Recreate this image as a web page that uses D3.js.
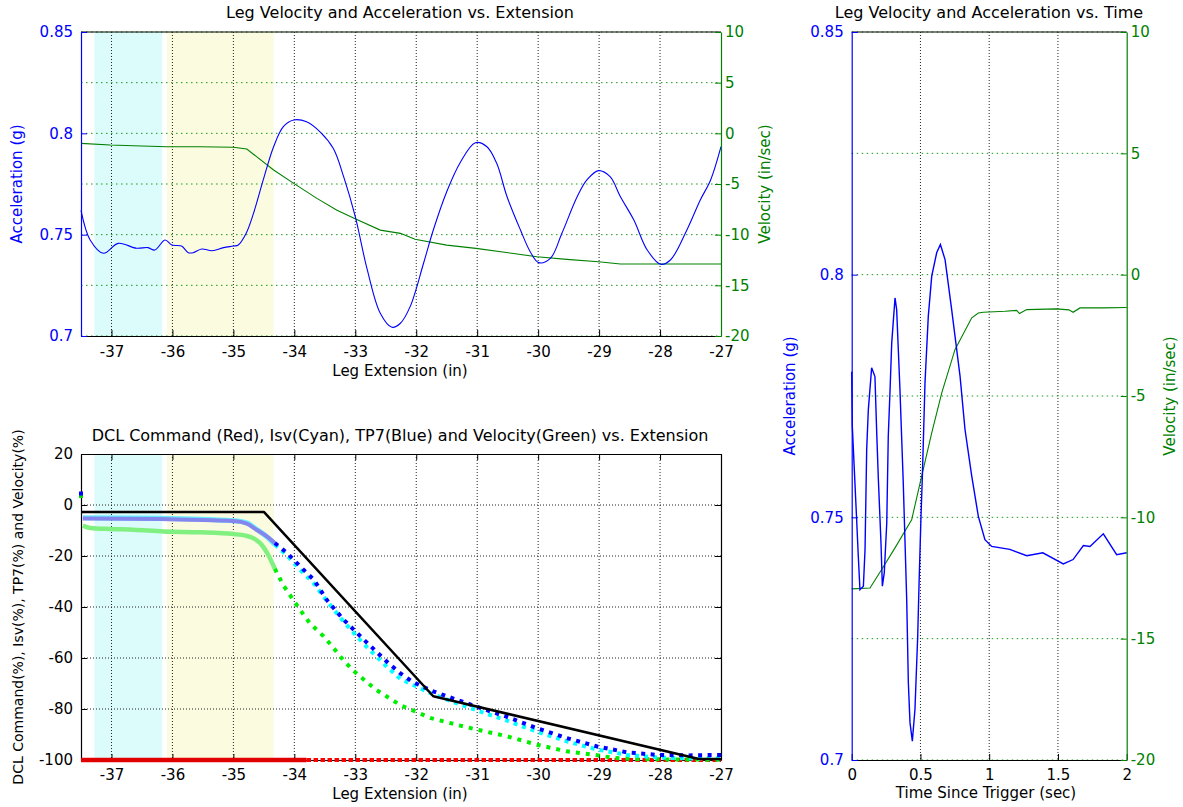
<!DOCTYPE html>
<html>
<head>
<meta charset="utf-8">
<script src="https://cdn.jsdelivr.net/npm/d3@7"></script>
<style>
  body { margin: 0; background: #fff; }
</style>
</head>
<body>
<div id="chart"></div>
<script>
// ---- data ----
const extTicks = [-37, -36, -35, -34, -33, -32, -31, -30, -29, -28, -27]
const accTicks = [0.7, 0.75, 0.8, 0.85]
const velTicks = [-20, -15, -10, -5, 0, 5, 10]
const pctTicks = [-100, -80, -60, -40, -20, 0, 20]
const timeTicks = [0, 0.5, 1, 1.5, 2]

// shaded extension ranges: [from, to]
const cyanBand = [-37.28, -36.17]
const yellowBand = [-36.09, -34.34]

// top-left: acceleration (g) vs extension
const accVsExt = [
  [-37.5, 0.762], [-37.35, 0.7474], [-37.13, 0.7408], [-36.89, 0.7457], [-36.59, 0.7433],
  [-36.4, 0.7436], [-36.29, 0.7424], [-36.12, 0.7474], [-36.01, 0.7449], [-35.85, 0.7444],
  [-35.74, 0.7411], [-35.66, 0.7411], [-35.52, 0.7429], [-35.35, 0.7421], [-35.16, 0.7436],
  [-35.0, 0.7444], [-34.92, 0.7449], [-34.79, 0.7507], [-34.67, 0.7605], [-34.51, 0.777],
  [-34.34, 0.7934], [-34.18, 0.8033], [-34.01, 0.8066], [-33.8, 0.8057], [-33.57, 0.8005],
  [-33.36, 0.7925], [-33.19, 0.7785], [-33.0, 0.7589], [-32.81, 0.7335], [-32.59, 0.7112],
  [-32.4, 0.7043], [-32.26, 0.7063], [-32.1, 0.7145], [-31.88, 0.7359], [-31.72, 0.7523],
  [-31.5, 0.7712], [-31.28, 0.7855], [-31.03, 0.7954], [-30.84, 0.7934], [-30.68, 0.7852],
  [-30.51, 0.7687], [-30.29, 0.7523], [-30.13, 0.7416], [-29.99, 0.7362], [-29.8, 0.7383],
  [-29.61, 0.7507], [-29.36, 0.7687], [-29.2, 0.777], [-29.01, 0.7816], [-28.82, 0.7786],
  [-28.65, 0.7687], [-28.43, 0.7572], [-28.21, 0.7424], [-27.99, 0.7354], [-27.83, 0.7375],
  [-27.56, 0.7523], [-27.34, 0.7671], [-27.17, 0.777], [-27.0, 0.7934]
]
// top-left: velocity (in/sec) vs extension
const velVsExt = [
  [-37.5, -0.99], [-37.02, -1.15], [-36.64, -1.22], [-36.09, -1.32], [-35.55, -1.32],
  [-35.0, -1.38], [-34.78, -1.55], [-34.62, -2.3], [-34.34, -3.62], [-34.01, -4.94],
  [-33.63, -6.42], [-33.3, -7.6], [-33.02, -8.39], [-32.59, -9.55], [-32.26, -9.87],
  [-32.02, -10.46], [-31.5, -11.03], [-31.02, -11.35], [-30.02, -12.18], [-29.53, -12.44],
  [-29.01, -12.67], [-28.65, -12.9], [-27.0, -12.9]
]

// bottom-left: percent series vs extension
const dclRed = [[-37.5, -100], [-33.8, -100], [-27.0, -100]]
const dclBlack = [[-37.5, -2.7], [-34.5, -2.7], [-31.72, -75], [-27.38, -99.5], [-27.0, -99.6]]
const tp7Blue = [
  [-37.5, 4.5], [-37.47, -5.3], [-36.2, -5.5], [-35.5, -5.9], [-35.0, -6.3], [-34.78, -7.3],
  [-34.62, -9.7], [-34.45, -12.3], [-34.32, -14.9], [-34.12, -18.8], [-33.9, -24.2],
  [-33.68, -29.3], [-33.46, -37.5], [-33.19, -45], [-32.86, -52.8], [-32.48, -61.5],
  [-32.26, -66], [-32.05, -69.5], [-31.72, -73.1], [-31.33, -76.4], [-30.95, -79.6],
  [-30.51, -83.1], [-30.02, -87.5], [-29.53, -91.4], [-29.03, -94.7], [-28.54, -97],
  [-28.05, -98], [-27.56, -98.2], [-27.0, -98]
]
const isvCyan = [
  [-37.47, -5.0], [-36.2, -5.2], [-35.0, -6.2], [-34.78, -7.0], [-34.62, -9.5],
  [-34.45, -12.5], [-34.32, -15.5], [-34.12, -19.8], [-33.9, -25.5], [-33.68, -30.8],
  [-33.47, -37.5], [-33.19, -45.8], [-32.86, -54.5], [-32.48, -63.5], [-32.26, -68.2],
  [-32.05, -70.6], [-31.72, -74.3], [-31.33, -77.8], [-30.95, -81], [-30.51, -84.6],
  [-30.02, -88.9], [-29.53, -92.7], [-29.03, -95.9], [-28.54, -98], [-28.05, -99],
  [-27.56, -99.4], [-27.0, -99.3]
]
const velPctGreen = [
  [-37.5, 3.5], [-37.47, -8.1], [-37.35, -9.0], [-37.02, -9.4], [-36.64, -9.7],
  [-36.15, -10.4], [-35.55, -10.7], [-35.0, -11.4], [-34.8, -12.0], [-34.66, -13.2],
  [-34.54, -15.5], [-34.43, -19.5], [-34.32, -25.0], [-34.18, -31.5], [-34.01, -37.5],
  [-33.85, -43.0], [-33.74, -46.5], [-33.52, -51.5], [-33.36, -56], [-33.19, -61],
  [-33.03, -65], [-32.81, -69.5], [-32.65, -72.6], [-32.26, -78.5], [-31.77, -83.5],
  [-31.28, -86.5], [-31.0, -88.1], [-30.51, -90.7], [-30.02, -94], [-29.53, -96.6],
  [-29.09, -97.9], [-28.76, -99.2], [-28.3, -99.7], [-27.0, -99.9]
]
// where the markers stop overlapping into a solid band
const redDenseEnd = -33.8
const markerDenseEnd = -34.32

// right: acceleration (g) vs time
const accVsTime = [
  [0.0, 0.78], [0.004, 0.769], [0.036, 0.7495], [0.048, 0.742], [0.06, 0.7351],
  [0.085, 0.7358], [0.097, 0.7434], [0.109, 0.764], [0.121, 0.7722], [0.145, 0.7808],
  [0.169, 0.779], [0.182, 0.7674], [0.194, 0.7578], [0.213, 0.7447], [0.223, 0.7358],
  [0.237, 0.7386], [0.255, 0.7489], [0.266, 0.7667], [0.279, 0.7763], [0.291, 0.7859],
  [0.315, 0.7952], [0.327, 0.7928], [0.351, 0.7763], [0.375, 0.7571], [0.388, 0.7447],
  [0.4, 0.7331], [0.412, 0.7159], [0.424, 0.7077], [0.441, 0.7039], [0.46, 0.7104],
  [0.48, 0.7255], [0.49, 0.7365], [0.504, 0.7502], [0.514, 0.7585], [0.533, 0.7777],
  [0.557, 0.7914], [0.582, 0.7997], [0.618, 0.8045], [0.645, 0.8062], [0.679, 0.8031],
  [0.727, 0.7928], [0.788, 0.7791], [0.824, 0.7681], [0.873, 0.7585], [0.921, 0.7502],
  [0.969, 0.7454], [1.018, 0.744], [1.15, 0.7434], [1.273, 0.7421], [1.39, 0.7427],
  [1.539, 0.7404], [1.61, 0.7413], [1.685, 0.7442], [1.733, 0.744], [1.83, 0.7466],
  [1.927, 0.7423], [2.0, 0.7427]
]
// right: velocity (in/sec) vs time
const velVsTime = [
  [0.0, -12.95], [0.133, -12.91], [0.218, -12.15], [0.315, -11.26], [0.436, -10.1],
  [0.509, -8.3], [0.582, -6.52], [0.655, -4.87], [0.751, -3.09], [0.873, -1.78],
  [0.921, -1.58], [0.957, -1.55], [1.115, -1.51], [1.2, -1.47], [1.22, -1.6],
  [1.273, -1.44], [1.49, -1.41], [1.58, -1.45], [1.61, -1.55], [1.66, -1.37],
  [1.83, -1.37], [2.0, -1.35]
]

// ---- drawing ----
const W = 1183, H = 807
const FONT = '"DejaVu Sans", "Liberation Sans", Arial, sans-serif'
const BLUE = '#0000ff'
const GREEN = '#008000'
const GRID_GREEN = '#1a9a1a'
const GRID_BLACK = '#222'

const svg = d3.select('#chart').append('svg')
  .attr('width', W).attr('height', H)
  .style('font-family', FONT)

svg.append('rect').attr('width', W).attr('height', H).attr('fill', '#fff')

function styleAxis(g, color, size) {
  g.select('.domain').attr('stroke', color).attr('stroke-width', 1.2)
  g.selectAll('.tick line').attr('stroke', color)
  g.selectAll('.tick text')
    .attr('fill', color).attr('font-size', (size || 15) + 'px')
    .attr('font-family', FONT)
}

const fmt = d => String(+d.toFixed(3))

function hGrid(g, y, values, x0, x1, color, dash) {
  g.append('g').selectAll('line').data(values).join('line')
    .attr('x1', x0).attr('x2', x1)
    .attr('y1', d => y(d)).attr('y2', d => y(d))
    .attr('stroke', color).attr('stroke-width', 1)
    .attr('stroke-dasharray', dash)
}

function vGrid(g, x, values, y0, y1, color, dash) {
  g.append('g').selectAll('line').data(values).join('line')
    .attr('x1', d => x(d)).attr('x2', d => x(d))
    .attr('y1', y0).attr('y2', y1)
    .attr('stroke', color).attr('stroke-width', 1)
    .attr('stroke-dasharray', dash)
}

function label(text, x, y, color, size, rotate) {
  svg.append('text')
    .attr('transform', `translate(${x},${y})` + (rotate ? ' rotate(-90)' : ''))
    .attr('text-anchor', 'middle')
    .attr('fill', color).attr('font-size', size + 'px')
    .text(text)
}

function bands(g, x, y0, y1) {
  [[cyanBand, '#dcfbfb'], [yellowBand, '#fbfbe0']].forEach(([b, c]) => {
    g.append('rect')
      .attr('x', x(b[0])).attr('width', x(b[1]) - x(b[0]))
      .attr('y', y0).attr('height', y1 - y0)
      .attr('fill', c)
  })
}

// ===== Panel 1: velocity & acceleration vs extension =====
{
  const L = 81, R = 721, T = 32, B = 336
  const x = d3.scaleLinear().domain([-37.5, -27]).range([L, R])
  const yA = d3.scaleLinear().domain([0.7, 0.85]).range([B, T])
  const yV = d3.scaleLinear().domain([-20, 10]).range([B, T])
  const g = svg.append('g')

  bands(g, x, T, B)
  vGrid(g, x, extTicks.slice(0, -1), T, B, GRID_BLACK, '1,2')
  hGrid(g, yV, velTicks, L, R, GRID_GREEN, '1.5,3.5')

  g.append('line').attr('x1', L).attr('x2', R).attr('y1', T).attr('y2', T)
    .attr('stroke', '#000').attr('stroke-width', 1)

  g.append('path').datum(velVsExt)
    .attr('fill', 'none').attr('stroke', GREEN).attr('stroke-width', 1.1)
    .attr('d', d3.line().x(d => x(d[0])).y(d => yV(d[1])))
  g.append('path').datum(accVsExt)
    .attr('fill', 'none').attr('stroke', BLUE).attr('stroke-width', 1.1)
    .attr('d', d3.line().x(d => x(d[0])).y(d => yA(d[1])).curve(d3.curveCatmullRom.alpha(0.5)))

  g.append('g').attr('transform', `translate(0,${B})`)
    .call(d3.axisBottom(x).tickValues(extTicks).tickFormat(fmt)
      .tickSizeInner(-6).tickSizeOuter(0).tickPadding(10))
    .call(a => styleAxis(a, '#000'))
  g.append('g').attr('transform', `translate(${L},0)`)
    .call(d3.axisLeft(yA).tickValues(accTicks).tickFormat(fmt)
      .tickSizeInner(-6).tickSizeOuter(0).tickPadding(8))
    .call(a => styleAxis(a, BLUE))
  g.append('g').attr('transform', `translate(${R},0)`)
    .call(d3.axisRight(yV).tickValues(velTicks).tickFormat(fmt)
      .tickSizeInner(-6).tickSizeOuter(0).tickPadding(4))
    .call(a => styleAxis(a, GREEN))

  label('Leg Velocity and Acceleration vs. Extension', 400, 18, '#000', 16)
  label('Leg Extension (in)', 400, 376, '#000', 15)
  label('Acceleration (g)', 22, 184, BLUE, 15, true)
  label('Velocity (in/sec)', 770, 184, GREEN, 15, true)
}

// ===== Panel 2: DCL / Isv / TP7 / velocity percent vs extension =====
{
  const L = 81, R = 721, T = 454, B = 760
  const x = d3.scaleLinear().domain([-37.5, -27]).range([L, R])
  const y = d3.scaleLinear().domain([-100, 20]).range([B, T])
  const g = svg.append('g')

  bands(g, x, T, B)
  vGrid(g, x, extTicks.slice(0, -1), T, B, GRID_BLACK, '1,2')
  hGrid(g, y, pctTicks.slice(1, -1), L, R, GRID_BLACK, '1,2')

  const line = d3.line().x(d => x(d[0])).y(d => y(d[1]))
  const smooth = d3.line().x(d => x(d[0])).y(d => y(d[1])).curve(d3.curveMonotoneX)
  const dense = (data, end) => data.filter(d => d[0] <= end)
  const sparse = (data, end) => data.filter(d => d[0] >= end)

  // axis frame lines (drawn before series so markers sit on top)
  g.append('g').attr('transform', `translate(0,${T})`)
    .call(d3.axisTop(x).tickValues(extTicks).tickFormat('')
      .tickSizeInner(-6).tickSizeOuter(0))
    .call(a => styleAxis(a, '#000'))
  g.append('g').attr('transform', `translate(${R},0)`)
    .call(d3.axisRight(y).tickValues(pctTicks).tickFormat('')
      .tickSizeInner(-6).tickSizeOuter(0))
    .call(a => styleAxis(a, '#000'))
  g.append('g').attr('transform', `translate(${L},0)`)
    .call(d3.axisLeft(y).tickValues(pctTicks).tickFormat(fmt)
      .tickSizeInner(-6).tickSizeOuter(0).tickPadding(8))
    .call(a => styleAxis(a, '#000'))
  g.append('g').attr('transform', `translate(0,${B})`)
    .call(d3.axisBottom(x).tickValues(extTicks).tickFormat(fmt)
      .tickSizeInner(-6).tickSizeOuter(0).tickPadding(9))
    .call(a => styleAxis(a, '#000'))

  // red DCL command
  g.append('path').datum(dense(dclRed, redDenseEnd))
    .attr('fill', 'none').attr('stroke', '#e00000').attr('stroke-width', 4.5)
    .attr('d', line)
  g.append('path').datum(sparse(dclRed, redDenseEnd))
    .attr('fill', 'none').attr('stroke', '#ff0000').attr('stroke-width', 4)
    .attr('stroke-dasharray', '4.5,2.5').attr('d', line)

  // green velocity %
  g.append('path').datum(dense(velPctGreen, markerDenseEnd).slice(1))
    .attr('fill', 'none').attr('stroke', '#80f080').attr('stroke-width', 4.5)
    .attr('stroke-linejoin', 'round').attr('d', smooth)
  g.append('path').datum(sparse(velPctGreen, markerDenseEnd))
    .attr('fill', 'none').attr('stroke', '#00ee00').attr('stroke-width', 4)
    .attr('stroke-dasharray', '4,6').attr('d', line)

  // cyan Isv
  g.append('path').datum(dense(isvCyan, markerDenseEnd))
    .attr('fill', 'none').attr('stroke', '#66eeff').attr('stroke-width', 5)
    .attr('stroke-linejoin', 'round').attr('d', smooth)
  g.append('path').datum(sparse(isvCyan, markerDenseEnd))
    .attr('fill', 'none').attr('stroke', '#00ffff').attr('stroke-width', 4)
    .attr('stroke-dasharray', '4,5').attr('d', line)

  // blue TP7
  g.append('path').datum(dense(tp7Blue, markerDenseEnd).slice(1))
    .attr('fill', 'none').attr('stroke', '#8585ee').attr('stroke-width', 4)
    .attr('stroke-linejoin', 'round').attr('d', smooth)
  g.append('path').datum(sparse(tp7Blue, markerDenseEnd))
    .attr('fill', 'none').attr('stroke', '#0000ff').attr('stroke-width', 4)
    .attr('stroke-dasharray', '4,5.5').attr('d', line)

  // start-of-record spike markers (first sample of blue and green)
  g.selectAll('.spike').data([[velPctGreen[0], '#00dd00'], [tp7Blue[0], '#0000ff']]).join('rect')
    .attr('x', d => x(d[0][0]) - 2).attr('y', d => y(d[0][1]) - 2)
    .attr('width', 4).attr('height', 4).attr('fill', d => d[1])

  // black command line
  g.append('path').datum(dclBlack)
    .attr('fill', 'none').attr('stroke', '#000').attr('stroke-width', 2.5)
    .attr('stroke-linejoin', 'round').attr('d', line)

  label('DCL Command (Red), Isv(Cyan), TP7(Blue) and Velocity(Green) vs. Extension', 400, 441, '#000', 16)
  label('Leg Extension (in)', 400, 799, '#000', 15)
  label('DCL Command(%), Isv(%), TP7(%) and Velocity(%)', 23, 607, '#000', 14, true)
}

// ===== Panel 3: velocity & acceleration vs time =====
{
  const L = 851.7, R = 1126.7, T = 32, B = 760
  const x = d3.scaleLinear().domain([0, 2]).range([L, R])
  const yA = d3.scaleLinear().domain([0.7, 0.85]).range([B, T])
  const yV = d3.scaleLinear().domain([-20, 10]).range([B, T])
  const g = svg.append('g')

  vGrid(g, x, timeTicks.slice(1, -1), T, B, GRID_BLACK, '1,2')
  hGrid(g, yV, velTicks, L, R, GRID_GREEN, '1.5,3.5')

  g.append('line').attr('x1', L).attr('x2', R).attr('y1', T).attr('y2', T)
    .attr('stroke', '#000').attr('stroke-width', 1)

  g.append('path').datum(velVsTime)
    .attr('fill', 'none').attr('stroke', GREEN).attr('stroke-width', 1.1)
    .attr('d', d3.line().x(d => x(d[0])).y(d => yV(d[1])))
  g.append('path').datum(accVsTime)
    .attr('fill', 'none').attr('stroke', BLUE).attr('stroke-width', 1.4)
    .attr('d', d3.line().x(d => x(d[0])).y(d => yA(d[1])))

  g.append('g').attr('transform', `translate(0,${B})`)
    .call(d3.axisBottom(x).tickValues(timeTicks).tickFormat(fmt)
      .tickSizeInner(-6).tickSizeOuter(0).tickPadding(9))
    .call(a => styleAxis(a, '#000'))
  g.append('g').attr('transform', `translate(${L},0)`)
    .call(d3.axisLeft(yA).tickValues(accTicks).tickFormat(fmt)
      .tickSizeInner(-6).tickSizeOuter(0).tickPadding(8))
    .call(a => styleAxis(a, BLUE))
  g.append('g').attr('transform', `translate(${R},0)`)
    .call(d3.axisRight(yV).tickValues(velTicks).tickFormat(fmt)
      .tickSizeInner(-6).tickSizeOuter(0).tickPadding(4))
    .call(a => styleAxis(a, GREEN))

  label('Leg Velocity and Acceleration vs. Time', 989, 18, '#000', 16)
  label('Time Since Trigger (sec)', 986, 798, '#000', 15)
  label('Acceleration (g)', 795, 396, BLUE, 15, true)
  label('Velocity (in/sec)', 1175, 396, GREEN, 15, true)
}
</script>
</body>
</html>
